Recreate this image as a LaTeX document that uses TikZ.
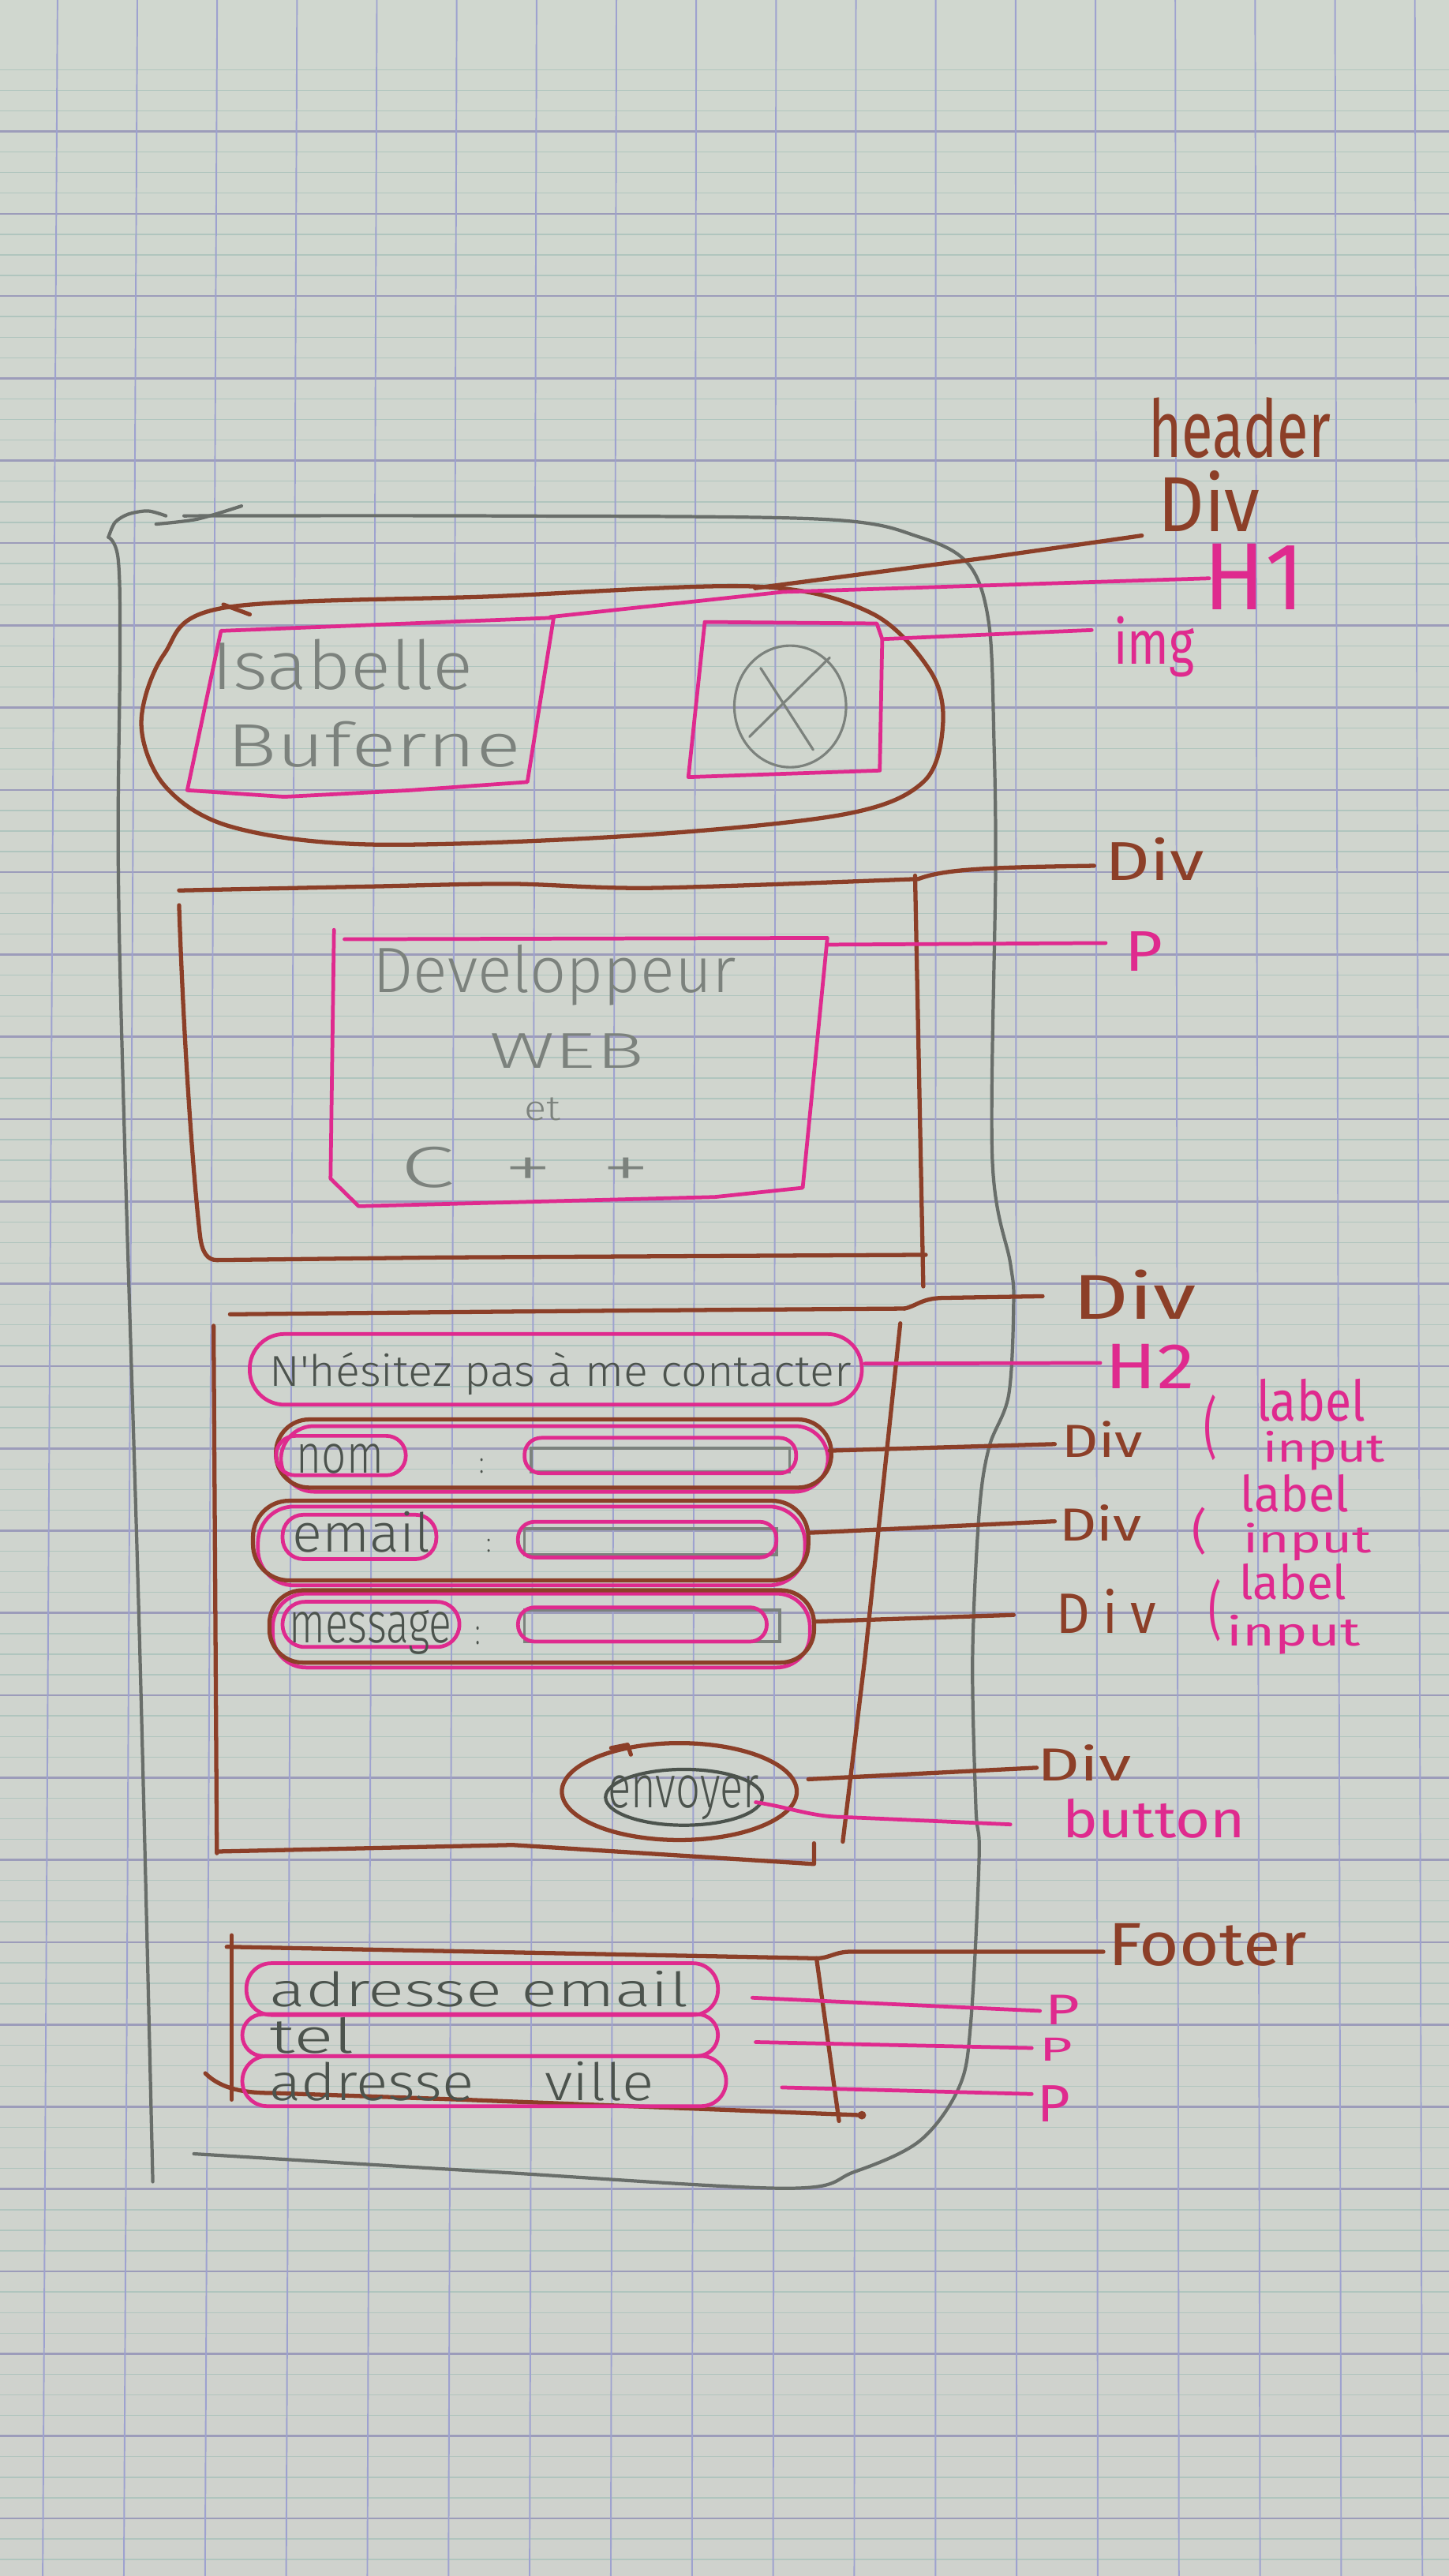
\documentclass[tikz,border=0pt]{standalone}
\usepackage{graphicx}
\usepackage{fontspec}
\setmainfont{Fira Sans}
\newfontfamily\pencilfont{Fira Sans Light}

% one drawing unit, as a TeX length (for resized handwriting)
\newdimen\upx
\upx=0.59239pt
\newcommand{\hw}[3]{\resizebox*{#1\upx}{#2\upx}{#3}}

\definecolor{papertop}{HTML}{D0D7CF}
\definecolor{papermid}{HTML}{D8DED7}
\definecolor{paperbot}{HTML}{CFD2CD}
\definecolor{majorrule}{HTML}{9C9CBA}
\definecolor{minorrule}{HTML}{B0C5BE}
\definecolor{vertrule}{HTML}{9EA2CF}
\definecolor{inkbrown}{HTML}{8C3F28}
\definecolor{inkpink}{HTML}{DF2A8E}
\definecolor{pencil}{HTML}{7C827D}
\definecolor{pencildark}{HTML}{4C534D}

\tikzset{
  brownpen/.style={draw=inkbrown, line width=1.5pt, line cap=round, line join=round},
  pinkpen/.style={draw=inkpink, line width=1.35pt, line cap=round, line join=round},
  phoneline/.style={draw=pencil!85!black, line width=1.2pt, line cap=round, line join=round},
  pencilline/.style={draw=pencil, line width=0.9pt, line cap=round},
  ovalline/.style={draw=pencildark, line width=1.2pt},
  inputline/.style={draw=pencil, line width=1pt},
  browntxt/.style={inner sep=0pt, outer sep=0pt, text=inkbrown},
  pinktxt/.style={inner sep=0pt, outer sep=0pt, text=inkpink},
  greytxt/.style={inner sep=0pt, outer sep=0pt, text=pencil, font=\pencilfont},
  darktxt/.style={inner sep=0pt, outer sep=0pt, text=pencildark, font=\pencilfont},
}

\begin{document}
\begin{tikzpicture}[x=0.02082cm, y=-0.02082cm]
\useasboundingbox (0,0) rectangle (882,1568);

% ---------- squared paper ----------
\shade[top color=papertop, middle color=papermid, bottom color=paperbot] (0,0) rectangle (882,1568);
\foreach \j in {-1,...,29}
  \foreach \m in {1,2,3}
    \draw[minorrule, line width=0.4pt] (0,{80+50.1*(\j+\m/4)}) -- (882,{80+50.1*(\j+\m/4)});
\foreach \j in {0,...,29}
  \draw[majorrule, line width=0.75pt] (0,{80+50.1*\j}) -- (882,{80+50.1*\j});
\foreach \k in {0,...,17}
  \draw[vertrule, line width=0.55pt] ({35+48.6*\k},0) -- ({26+49.4*\k},1568);

% ---------- phone outline (pencil) ----------
\draw[phoneline] plot[smooth, tension=0.6] coordinates {(66,327) (72,341) (73,400) (72,528) (76,700) (85,1000) (93,1328)};
\draw[phoneline] plot[smooth] coordinates {(66,327) (70,318) (78,313) (90,311) (101,314)};
\draw[phoneline] plot[smooth] coordinates {(95,319) (120,316) (147,308)};
\draw[phoneline] plot[smooth, tension=0.55] coordinates {(112,314) (300,314) (500,316) (560,327) (590,344) (602,380) (605,450) (606,530) (604,705) (615,769) (617,793) (614,849) (602,881) (596,921) (592,1009) (594,1100) (596,1130) (591,1230) (584,1270) (560,1303) (520,1322) (478,1332) (300,1322) (118,1311)};

% ---------- header ----------
\draw[brownpen] plot[smooth cycle, tension=0.55] coordinates {(136,370) (300,363) (460,357) (530,373) (566,408) (574,440) (562,476) (512,496) (380,509) (224,514) (140,503) (100,478) (86,440) (100,398)};
\draw[brownpen] (136,368) -- (152,374);
% name block (h1)
\draw[pinkpen] (134.5,384) -- (337,376) -- (321,476) -- (250,481) -- (173,485) -- (114,481) -- cycle;
% picture block (img)
\draw[pinkpen] (429,378.6) -- (533.7,379.5) -- (537,389) -- (535.5,469) -- (419,473) -- cycle;
\draw[pencilline] (481,430) ellipse [x radius=34, y radius=37];
\draw[pencilline] (463,406.7) -- (495,456.4);
\draw[pencilline] (505,400.3) -- (456.2,448.4);

% ---------- presentation block ----------
\draw[brownpen] plot[smooth, tension=0.5] coordinates {(109,542) (224.8,539.6) (310.5,538) (396.3,540.5) (559,535)};
\draw[brownpen] (557,533) -- (562,783);
\draw[brownpen] (109,551) .. controls (112,640) and (118,720) .. (121.8,752.6) .. controls (123,762) and (126,767) .. (132,767) -- (268,765.4) -- (563.5,763.8);
\draw[pinkpen] (209.7,571.7) -- (503.6,570.9) -- (488.6,723) -- (435,728.6) -- (218.3,734.2) -- (201.2,717.4) -- (203.3,566);

% ---------- contact form ----------
\draw[brownpen] plot[smooth, tension=0.5] coordinates {(140,800) (350,798) (550.5,796.5)};
\draw[brownpen] (548,805.5) -- (526.5,1009) -- (513,1121);
\draw[brownpen] (130,807) -- (132,1128);
\draw[brownpen] (132,1127) -- (312,1123) -- (495.5,1134.6) -- (495.5,1122);
% h2
\draw[pinkpen, rounded corners=12.5pt] (152,812) rectangle (524.6,855);
% field rows
\draw[pinkpen, rounded corners=12pt] (171,868) rectangle (504,908);
\draw[brownpen, rounded corners=12pt] (168,864) rectangle (506,905.5);
\draw[pinkpen, rounded corners=13pt] (157,917) rectangle (490,965);
\draw[brownpen, rounded corners=13pt] (154,913.5) rectangle (492,962);
\draw[pinkpen, rounded corners=12pt] (166,970) rectangle (493,1015);
\draw[brownpen, rounded corners=12pt] (164,968) rectangle (495.5,1012);
% labels of the fields
\draw[pinkpen, rounded corners=7pt] (168,874) rectangle (247,898);
\draw[pinkpen, rounded corners=7.5pt] (172,922) rectangle (265.6,949);
\draw[pinkpen, rounded corners=8pt] (172,975) rectangle (279.6,1002.5);
% inputs
\draw[inputline] (323.3,881.5) rectangle (480.6,896);
\draw[pinkpen, rounded corners=6pt] (319.3,875.2) rectangle (484.6,896.8);
\draw[inputline] (319.3,930.4) rectangle (472.6,946.4);
\draw[pinkpen, rounded corners=6pt] (315.3,926.3) rectangle (472.6,948);
\draw[inputline] (319.3,980) rectangle (474.6,999.2);
\draw[pinkpen, rounded corners=6pt] (315.3,978.4) rectangle (466.7,999.2);
% send button
\draw[brownpen] (413.5,1090.5) ellipse [x radius=71.5, y radius=29.5];
\draw[brownpen] (372,1064) -- (382,1062) -- (384,1068);
\draw[ovalline] (416.3,1094) ellipse [x radius=47.7, y radius=17];

% ---------- footer ----------
\draw[brownpen] (141,1178) -- (141,1278);
\draw[brownpen] (125,1262) .. controls (135,1272) and (150,1274) .. (166,1274) -- (281,1278) -- (524.6,1287.5);
\fill[inkbrown] (524.6,1287.5) circle [radius=2.6];
\draw[brownpen] (497,1192) -- (510.7,1291);
\draw[pinkpen, rounded corners=9pt] (150,1195) rectangle (437,1226.5);
\draw[pinkpen, rounded corners=7.5pt] (147.5,1226) rectangle (437,1251.5);
\draw[pinkpen, rounded corners=9pt] (147.5,1251.5) rectangle (442,1282);

% ---------- texts inside the page ----------
\node[greytxt] (tname1) at (208.5,404.5) {\hw{159}{31}{Isabelle}};
\node[greytxt] (tname2) at (227.5,453) {\hw{179}{28}{Buferne}};
\node[greytxt] (tjob1) at (337.5,593.5) {\hw{221}{37}{Developpeur}};
\node[greytxt] (tjob2) at (345,639.5) {\hw{94}{21}{WEB}};
\node[greytxt] (tjob3) at (330,675) {\hw{22}{14}{et}};
\node[greytxt] (tjob4) at (320,710.5) {\hw{152}{25}{C\hspace{0.5em}+\hspace{0.5em}+}};
\node[darktxt] (th2) at (341,836) {\hw{354}{26}{N'hésitez pas à me contacter}};
\node[darktxt] (tnom) at (207,888) {\hw{53}{18}{nom}};
\node[darktxt] (tc1) at (293.5,892.5) {\hw{3}{9}{:}};
\node[darktxt] (temail) at (220,932.5) {\hw{84}{25}{email}};
\node[darktxt] (tc2) at (297.6,941) {\hw{3}{8}{:}};
\node[darktxt] (tmsg) at (225.5,993.5) {\hw{99}{27}{message}};
\node[darktxt] (tc3) at (291,995.5) {\hw{3}{11}{:}};
\node[darktxt] (tsend) at (416,1094.5) {\hw{92}{27}{envoyer}};
\node[darktxt] (tf1) at (291.5,1210.5) {\hw{255}{22}{adresse email}};
\node[darktxt] (tf2) at (190,1239) {\hw{52}{22}{tel}};
\node[darktxt] (tf3) at (281,1267) {\hw{234}{24}{adresse\hspace{1.2em}ville}};

% ---------- annotation labels ----------
\node[browntxt] (lheader) at (754.5,260.5) {\hw{111}{37}{header}};
\node[browntxt] (ldiv1) at (736,305) {\hw{62}{37}{Div}};
\node[pinktxt] (lh1) at (763.5,351) {\hw{61}{40}{H1}};
\node[pinktxt] (limg) at (702.5,393.5) {\hw{49}{37}{img}};
\node[browntxt] (ldiv2) at (703,523) {\hw{60}{26}{Div}};
\node[pinktxt] (lp) at (696.5,579) {\hw{23}{24}{P}};
\node[browntxt] (ldiv3) at (690.5,788) {\hw{75}{30}{Div}};
\node[pinktxt] (lh2) at (700,831.5) {\hw{54}{27}{H2}};
\node[browntxt] (ldivr1) at (671,876) {\hw{49}{22}{Div}};
\node[pinktxt] (lpar1) at (737,869) {\hw{8}{40}{(}};
\node[pinktxt] (llab1) at (798,852.5) {\hw{66}{26}{label}};
\node[pinktxt] (linp1) at (806,883) {\hw{74}{24}{input}};
\node[browntxt] (ldivr2) at (670,927) {\hw{50}{22}{Div}};
\node[pinktxt] (lpar2) at (730,932) {\hw{9}{29}{(}};
\node[pinktxt] (llab2) at (788,909) {\hw{66}{23}{label}};
\node[pinktxt] (linp2) at (796,938.5) {\hw{78}{23}{input}};
\node[browntxt] (ldivr3) at (673.5,980.5) {\hw{61}{27}{D\hspace{0.25em}i\hspace{0.25em}v}};
\node[pinktxt] (lpar3) at (739.5,980) {\hw{8}{38}{(}};
\node[pinktxt] (llab3) at (787,963) {\hw{65.5}{22}{label}};
\node[pinktxt] (linp3) at (787.5,995) {\hw{81}{24}{input}};
\node[browntxt] (ldivb) at (660,1073) {\hw{57}{22}{Div}};
\node[pinktxt] (lbtn) at (702.5,1107) {\hw{111}{24}{button}};
\node[browntxt] (lfoot) at (735,1184) {\hw{121}{26}{Footer}};
\node[pinktxt] (lp1) at (647,1223.5) {\hw{21}{18}{P}};
\node[pinktxt] (lp2) at (643,1247.5) {\hw{20}{14}{P}};
\node[pinktxt] (lp3) at (641.5,1280.5) {\hw{20}{22}{P}};

% ---------- connectors ----------
\coordinate (cHdr) at (459.6,358);
\coordinate (cHdrMid) at (600.5,339.5);
\coordinate (cHdrEnd) at (695,326);
\draw[brownpen] (cHdr) -- (cHdrMid) -- (cHdrEnd);

\coordinate (cName) at (335,375.5);
\coordinate (cNameMid) at (476.6,360.3);
\coordinate (cNameEnd) at (736,352);
\draw[pinkpen] (cName) -- (cNameMid) -- (cNameEnd);

\coordinate (cImg) at (537,389);
\coordinate (cImgEnd) at (664.5,383.5);
\draw[pinkpen] (cImg) -- (cImgEnd);

\coordinate (cPres) at (559,535);
\coordinate (cPresEnd) at (666,527);
\draw[brownpen] (cPres) .. controls (575,529) and (600,528) .. (cPresEnd);

\coordinate (cText) at (503.6,575);
\coordinate (cTextEnd) at (673,574);
\draw[pinkpen] (cText) -- (cTextEnd);

\coordinate (cForm) at (550.5,796.5);
\coordinate (cFormEnd) at (634.6,789);
\draw[brownpen] (cForm) .. controls (558,795) and (561,790) .. (575,790) -- (cFormEnd);

\coordinate (cH2) at (526.5,830);
\coordinate (cH2End) at (669.7,829.6);
\draw[pinkpen] (cH2) -- (cH2End);

\coordinate (cRow1) at (505,883);
\coordinate (cRow1End) at (642,879);
\draw[brownpen] (cRow1) -- (cRow1End);
\coordinate (cRow2) at (492.5,933);
\coordinate (cRow2End) at (642,926);
\draw[brownpen] (cRow2) -- (cRow2End);
\coordinate (cRow3) at (497,987);
\coordinate (cRow3End) at (617,983);
\draw[brownpen] (cRow3) -- (cRow3End);

\coordinate (cSend) at (492,1083);
\coordinate (cSendEnd) at (631,1076);
\draw[brownpen] (cSend) -- (cSendEnd);
\coordinate (cBtn) at (460,1097);
\coordinate (cBtnEnd) at (615,1110.5);
\draw[pinkpen] (cBtn) .. controls (480,1100) and (495,1106) .. (513,1106) -- (cBtnEnd);

\coordinate (cFoot) at (138,1185);
\coordinate (cFootEnd) at (671.6,1188);
\draw[brownpen] (cFoot) -- (497,1192) .. controls (505,1192) and (508,1188) .. (518,1188) -- (cFootEnd);

\coordinate (cF1) at (458,1216);
\coordinate (cF1End) at (633,1224);
\draw[pinkpen] (cF1) -- (cF1End);
\coordinate (cF2) at (460,1243);
\coordinate (cF2End) at (628,1246.6);
\draw[pinkpen] (cF2) -- (cF2End);
\coordinate (cF3) at (476,1270.6);
\coordinate (cF3End) at (628,1274.6);
\draw[pinkpen] (cF3) -- (cF3End);
\end{tikzpicture}
\end{document}
